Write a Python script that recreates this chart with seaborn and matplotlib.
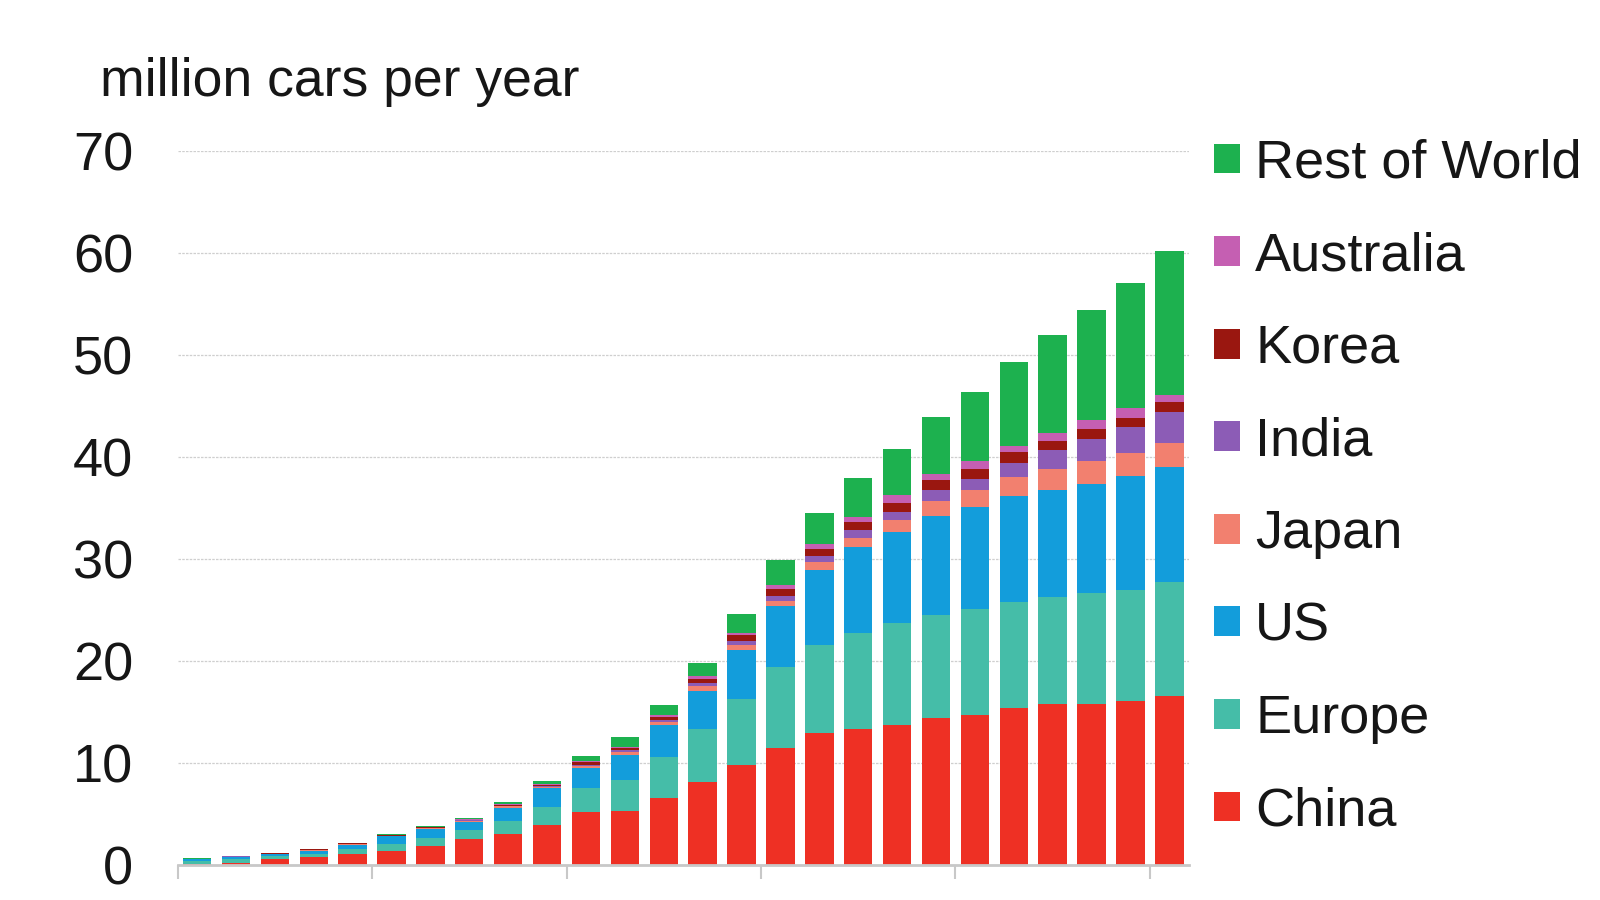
import seaborn as sns
import pandas as pd
import matplotlib.pyplot as plt

# million cars per year, one value per bar (26 bars)
china = [0.1, 0.2, 0.55, 0.75, 1.05, 1.4, 1.9, 2.5, 3.0, 3.9, 5.2, 5.25, 6.6,
         8.1, 9.8, 11.5, 12.95, 13.3, 13.75, 14.4, 14.7, 15.4, 15.75, 15.8, 16.1, 16.6]
europe = [0.3, 0.35, 0.3, 0.35, 0.5, 0.65, 0.7, 0.9, 1.35, 1.75, 2.3, 3.1, 4.0,
          5.2, 6.5, 7.9, 8.65, 9.4, 9.95, 10.15, 10.4, 10.35, 10.55, 10.85, 10.9, 11.15]
us = [0.15, 0.25, 0.2, 0.3, 0.45, 0.75, 0.95, 0.85, 1.25, 1.85, 2.0, 2.45, 3.1,
      3.75, 4.8, 6.0, 7.3, 8.45, 8.9, 9.65, 10.0, 10.45, 10.5, 10.75, 11.1, 11.25]
japan = [0.02, 0.03, 0.03, 0.05, 0.05, 0.05, 0.07, 0.1, 0.15, 0.15, 0.2, 0.25, 0.3,
         0.45, 0.5, 0.5, 0.8, 0.95, 1.2, 1.5, 1.7, 1.8, 2.0, 2.2, 2.3, 2.4]
india = [0.01, 0.01, 0.02, 0.02, 0.03, 0.03, 0.03, 0.05, 0.07, 0.1, 0.15, 0.2, 0.25,
         0.35, 0.4, 0.5, 0.6, 0.7, 0.85, 1.1, 1.05, 1.45, 1.9, 2.2, 2.55, 3.0]
korea = [0.01, 0.02, 0.03, 0.05, 0.05, 0.05, 0.05, 0.05, 0.1, 0.1, 0.2, 0.2, 0.3,
         0.4, 0.5, 0.65, 0.7, 0.8, 0.85, 0.9, 0.95, 1.05, 0.9, 0.9, 0.85, 1.0]
australia = [0.01, 0.01, 0.02, 0.03, 0.02, 0.02, 0.03, 0.05, 0.08, 0.1, 0.15, 0.15, 0.2,
             0.25, 0.2, 0.45, 0.5, 0.5, 0.8, 0.6, 0.8, 0.6, 0.8, 0.9, 1.0, 0.7]
rest = [0.05, 0.05, 0.05, 0.05, 0.05, 0.05, 0.07, 0.1, 0.2, 0.3, 0.5, 0.9, 0.95,
        1.35, 1.95, 2.4, 3.0, 3.8, 4.5, 5.6, 6.8, 8.2, 9.6, 10.8, 12.3, 14.1]

regions = ["Rest of World", "Australia", "Korea", "India", "Japan", "US", "Europe", "China"]
series = [rest, australia, korea, india, japan, us, europe, china]
colors = ["#1DB14F", "#C55FB2", "#9A1710", "#8C5CB6", "#F2806F", "#139DDB", "#45BDA8", "#EE3024"]

rows = []
for name, vals in zip(regions, series):
    for i, v in enumerate(vals):
        rows.append({"bar": i + 1, "region": name, "value": v})
df = pd.DataFrame(rows)

sns.set_theme(style="white")
plt.rcParams['font.family'] = ['Liberation Sans', 'DejaVu Sans']

fig = plt.figure(figsize=(16, 9), dpi=100)
ax = fig.add_axes([0.111, 0.0389, 0.632, 0.7933])

# seaborn stacks the last hue level at the bottom, so China ends up as the base
sns.histplot(data=df, x="bar", weights="value", hue="region", hue_order=regions,
             palette=colors, multiple="stack", discrete=True, shrink=0.73,
             alpha=1, linewidth=0, edgecolor="none", ax=ax)

ax.set_xlim(0.5, 26.5)
ax.set_ylim(0, 70)
ax.set_yticks(range(0, 71, 10))
ax.set_xticks([0.5, 5.5, 10.5, 15.5, 20.5, 25.5])
ax.set_xticklabels([])
ax.set_xlabel("")
ax.set_ylabel("")
ax.tick_params(axis="y", length=0, pad=32, labelsize=39, labelcolor="#161616")
ax.tick_params(axis="x", length=10, width=1.5, color="#c8c8c8", direction="out", bottom=True)
for y in range(10, 71, 10):
    ax.axhline(y, color="#cfcfcf", lw=0.9, ls=(0, (2, 1)), zorder=0)
sns.despine(ax=ax, left=True)
ax.spines["bottom"].set_color("#c8c8c8")
ax.spines["bottom"].set_linewidth(2)

fig.text(0.0625, 1 - 82 / 900, "million cars per year", fontsize=38.5,
         va="center", ha="left", color="#161616")

sns.move_legend(ax, loc="center left", bbox_to_anchor=(0.759, 0.458),
                bbox_transform=fig.transFigure, frameon=False, title=None,
                fontsize=39, handlelength=0.47, handleheight=0.47,
                handletextpad=0.28, labelspacing=0.786, borderpad=0, borderaxespad=0)
for t in ax.get_legend().get_texts():
    t.set_color("#161616")

fig.savefig("out.png", dpi=100)
